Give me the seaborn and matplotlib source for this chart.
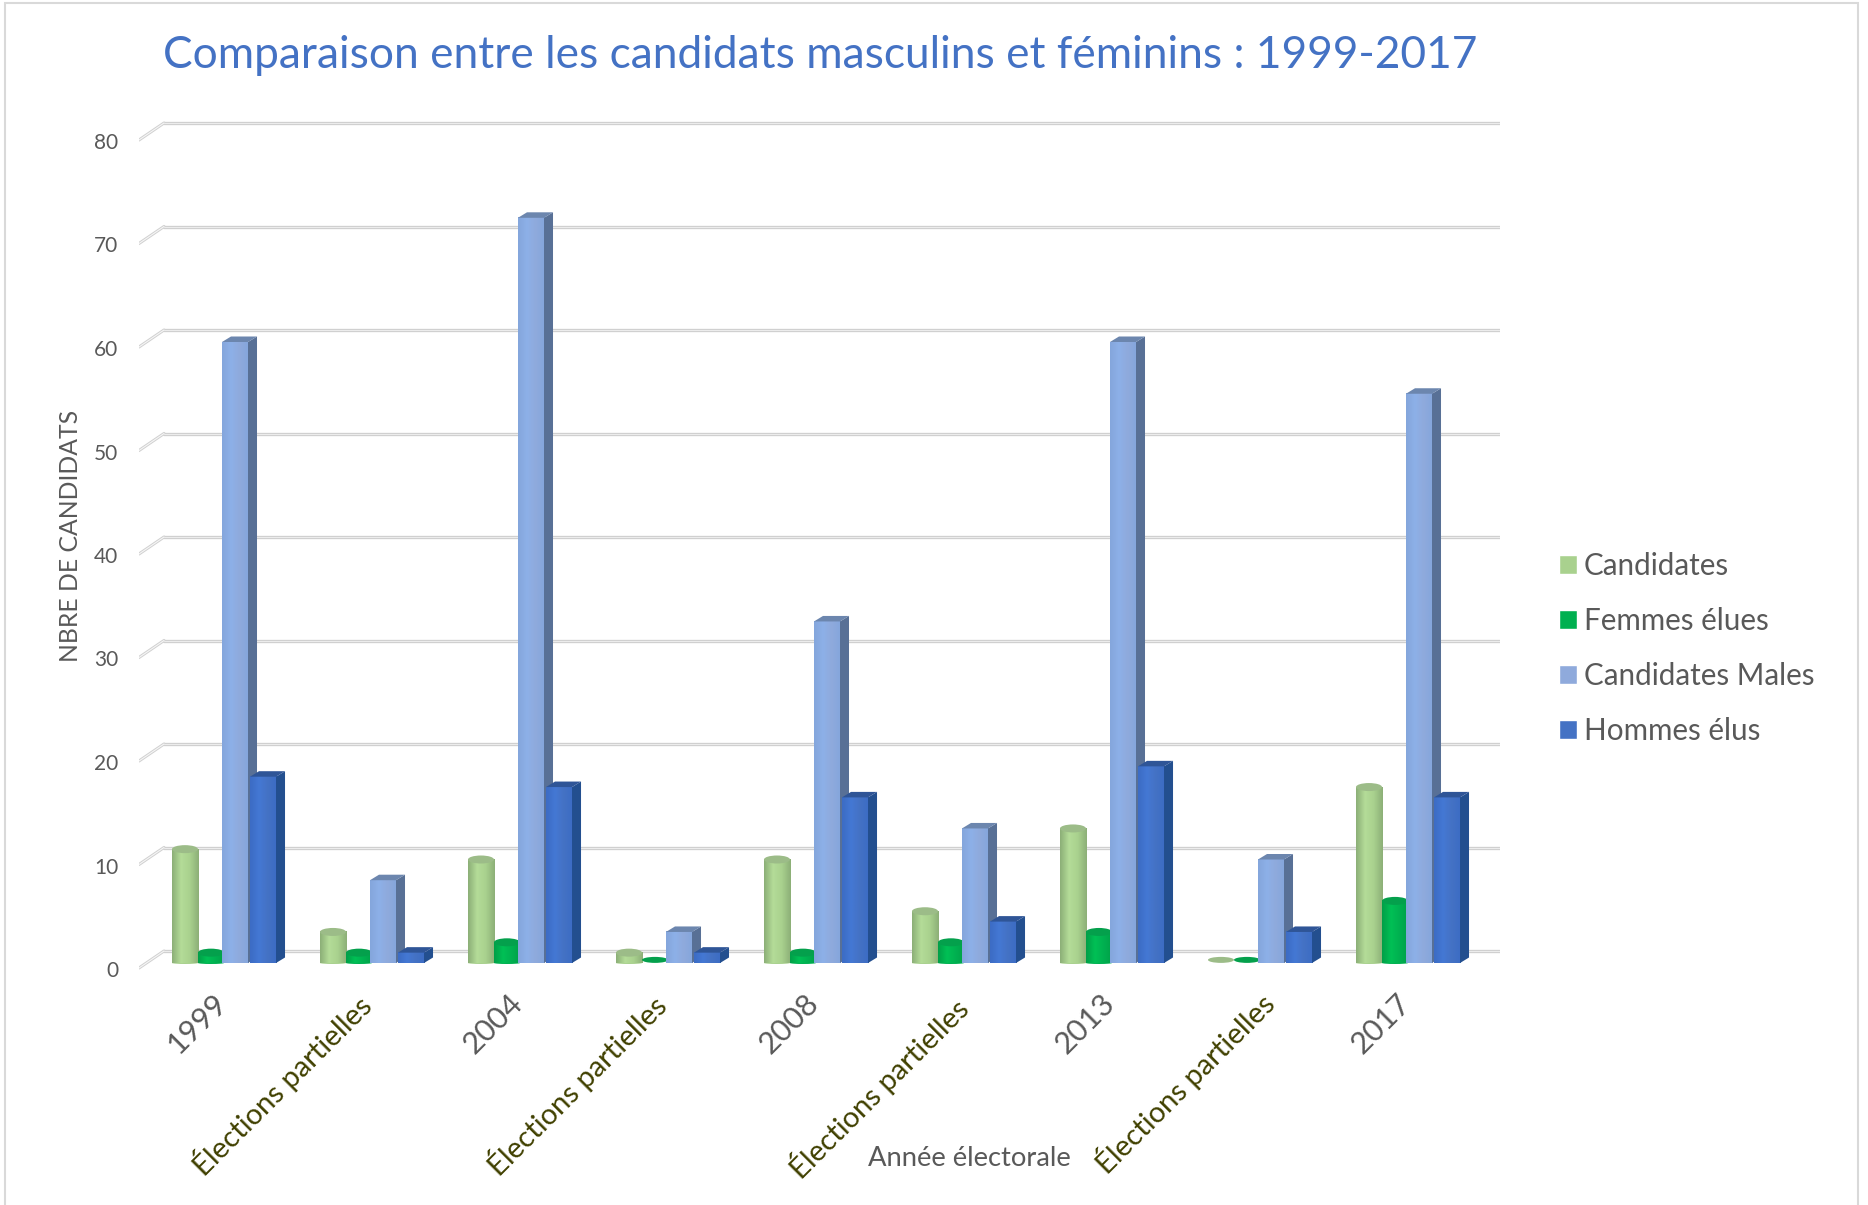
import numpy as np
import pandas as pd
import seaborn as sns
import matplotlib
matplotlib.use("Agg")
import matplotlib.pyplot as plt
from matplotlib.colors import LinearSegmentedColormap
from matplotlib.patches import Ellipse, Polygon, Rectangle
from matplotlib.transforms import ScaledTranslation

# ---------- data ----------
election_ids = ["1999", "p1", "2004", "p2", "2008", "p3", "2013", "p4", "2017"]
tick_labels = ["1999", "Élections partielles", "2004", "Élections partielles", "2008",
               "Élections partielles", "2013", "Élections partielles", "2017"]
candidates = [11, 3, 10, 1, 10, 5, 13, 0, 17]
femmes_elues = [1, 1, 2, 0, 1, 2, 3, 0, 6]
candidats_males = [60, 8, 72, 3, 33, 13, 60, 10, 55]
hommes_elus = [18, 1, 17, 1, 16, 4, 19, 3, 16]
series_names = ["Candidates", "Femmes élues", "Candidates Males", "Hommes élus"]
y_ticks = [0, 10, 20, 30, 40, 50, 60, 70, 80]

# ---------- styles ----------
colors = ["#A9D18E", "#00B050", "#8FAADC", "#4472C4"]
edge_shades = ["#8DB078", "#00A048", "#84A6DC", "#3C6CC4"]
mid_shades = ["#B4DC98", "#00C055", "#8DB0E8", "#4478D4"]
side_shades = [None, None, "#587096", "#234F8F"]
top_shades = ["#9CBC88", "#04A04C", "#6C86AE", "#2F5597"]
grey = "#595959"
olive = "#404000"
label_offsets_px = [(-12, 8), (-17, 8), (-12, 8), (-18, 8), (-12, 8), (-12, 5), (-12, 8), (-2, 10), (-12, 8)]

sns.set_theme(style="white")
plt.rcParams["font.family"] = ["Lato", "DejaVu Sans"]

W, H, DPI = 1868, 1205, 100
PX_X, PX_Y = 148.0, 10.35       # pixels per category / per y unit
left_px, right_px, base_px, center0_px = 139, 1500, 963, 224
y_min, y_max = -3, 83.4

fig = plt.figure(figsize=(W / DPI, H / DPI), dpi=DPI, facecolor="white")
ax = fig.add_axes([left_px / W, (H - base_px + y_min * PX_Y) / H,
                   (right_px - left_px) / W, (y_max - y_min) * PX_Y / H])

df = pd.DataFrame({"election": election_ids, series_names[0]: candidates,
                   series_names[1]: femmes_elues, series_names[2]: candidats_males,
                   series_names[3]: hommes_elus}).melt(id_vars="election", var_name="serie", value_name="n")
sns.barplot(data=df, x="election", y="n", hue="serie", order=election_ids, hue_order=series_names,
            palette=colors, saturation=1, width=0.703, ax=ax, zorder=3)

# wall gridlines and their perspective stubs
depth_x, depth_y = 25 / PX_X, 17 / PX_Y
front_y = -5 / PX_Y
xl = (left_px - center0_px) / PX_X
xr = (right_px - center0_px) / PX_X
for v in y_ticks:
    yb = v + front_y + depth_y
    ax.plot([xl + depth_x, xr], [yb, yb], color="#D0D0D0", lw=2.4, zorder=1, solid_capstyle="round")
    ax.plot([xl + depth_x, xr], [yb, yb], color="#EDEDED", lw=0.7, zorder=1.1)
    ax.plot([xl, xl + depth_x], [v + front_y, yb], color="#D0D0D0", lw=2.2, zorder=1, solid_capstyle="round")
    ax.plot([xl, xl + depth_x], [v + front_y, yb], color="#F6F6F6", lw=0.8, zorder=1.1)

# 3D look derived from the seaborn bars
side_dx, side_dy = 9 / PX_X, 5.5 / PX_Y
ell_h = 8 / PX_Y
for i, cont in enumerate(ax.containers):
    z = 3 + i
    cmap = LinearSegmentedColormap.from_list("s", [edge_shades[i], mid_shades[i], colors[i], edge_shades[i]])
    for bar in cont.patches:
        if i == 2:
            bar.set_x(bar.get_x() - 2 / PX_X)
        x0, w, h = bar.get_x(), bar.get_width(), bar.get_height()
        bar.set_zorder(z)
        bar.set_linewidth(0)
        if h > 0:
            ax.imshow(np.linspace(0, 1, 32).reshape(1, -1), extent=(x0, x0 + w, 0, h), cmap=cmap,
                      aspect="auto", zorder=z + 0.1, interpolation="bilinear")
        if i < 2:   # cylinders
            if h > 0:
                ax.add_patch(Ellipse((x0 + w / 2, 0), w, ell_h * 0.25, color=colors[i], lw=0, zorder=z + 0.05))
                ax.add_patch(Ellipse((x0 + w / 2, h), w, ell_h, color=top_shades[i], lw=0, zorder=z + 0.2))
            else:
                ax.add_patch(Ellipse((x0 + w / 2, 0.3), w, ell_h * 0.75, color=top_shades[i], lw=0, zorder=z + 0.2))
        elif h > 0:  # boxes
            x1 = x0 + w
            ax.add_patch(Polygon([(x1, 0), (x1 + side_dx, side_dy), (x1 + side_dx, h + side_dy), (x1, h)],
                                 closed=True, color=side_shades[i], lw=0, zorder=z + 0.2))
            ax.add_patch(Polygon([(x0, h), (x0 + side_dx, h + side_dy), (x1 + side_dx, h + side_dy), (x1, h)],
                                 closed=True, color=top_shades[i], lw=0, zorder=z + 0.2))

ax.set_xlim(xl, xr)
ax.set_ylim(y_min, y_max)
sns.despine(ax=ax, left=True, bottom=True, top=True, right=True)
ax.patch.set_alpha(0)

# y ticks
ax.set_yticks(y_ticks, [str(v) for v in y_ticks])
ax.tick_params(axis="y", length=0, pad=15, labelsize=15, labelcolor=grey)
shift = ScaledTranslation(0, -6 / DPI, fig.dpi_scale_trans)
for lab in ax.get_yticklabels():
    lab.set_transform(lab.get_transform() + shift)

# x ticks
ax.set_xticks(range(len(tick_labels)), tick_labels)
ax.tick_params(axis="x", length=0, pad=2)
for k, lab in enumerate(ax.get_xticklabels()):
    is_year = k % 2 == 0
    lab.set(rotation=45, ha="right", va="top", rotation_mode="anchor",
            color=grey if is_year else olive, fontsize=22 if is_year else 21)
    ox, oy = label_offsets_px[k]
    lab.set_transform(lab.get_transform() + ScaledTranslation(ox / DPI, oy / DPI, fig.dpi_scale_trans))

ax.set_xlabel("")
ax.set_ylabel("")
fig.text(969 / W, 1 - 1158 / H, "Année électorale", color=grey, fontsize=19.7, ha="center", va="center")
fig.text(71 / W, 1 - 536 / H, "NBRE DE CANDIDATS", color=grey, fontsize=17.8, rotation=90, ha="center", va="center")
fig.text(820 / W, 1 - 56 / H, "Comparaison entre les candidats masculins et féminins : 1999-2017",
         color="#4472C4", fontsize=31.9, ha="center", va="center")

# legend
handles, labels = ax.get_legend_handles_labels()
fs = 21.3
fs_px = fs * DPI / 72
ax.legend(handles, labels, loc="upper left", bbox_to_anchor=(1559 / W, 1 - 552 / H),
          bbox_transform=fig.transFigure, frameon=False, fontsize=fs, labelcolor=grey, borderpad=0, borderaxespad=0,
          handlelength=18 / fs_px, handleheight=18 / fs_px, handletextpad=7 / fs_px,
          labelspacing=(55 - 1.1 * fs_px + 4.6) / fs_px)

# outer frame
fig.add_artist(Rectangle((5 / W, -0.05), (1858 - 5) / W, 1.05 - 3 / H, transform=fig.transFigure,
                         fill=False, edgecolor="#D9D9D9", lw=1.5))

fig.savefig("out.png", dpi=DPI, facecolor="white")
